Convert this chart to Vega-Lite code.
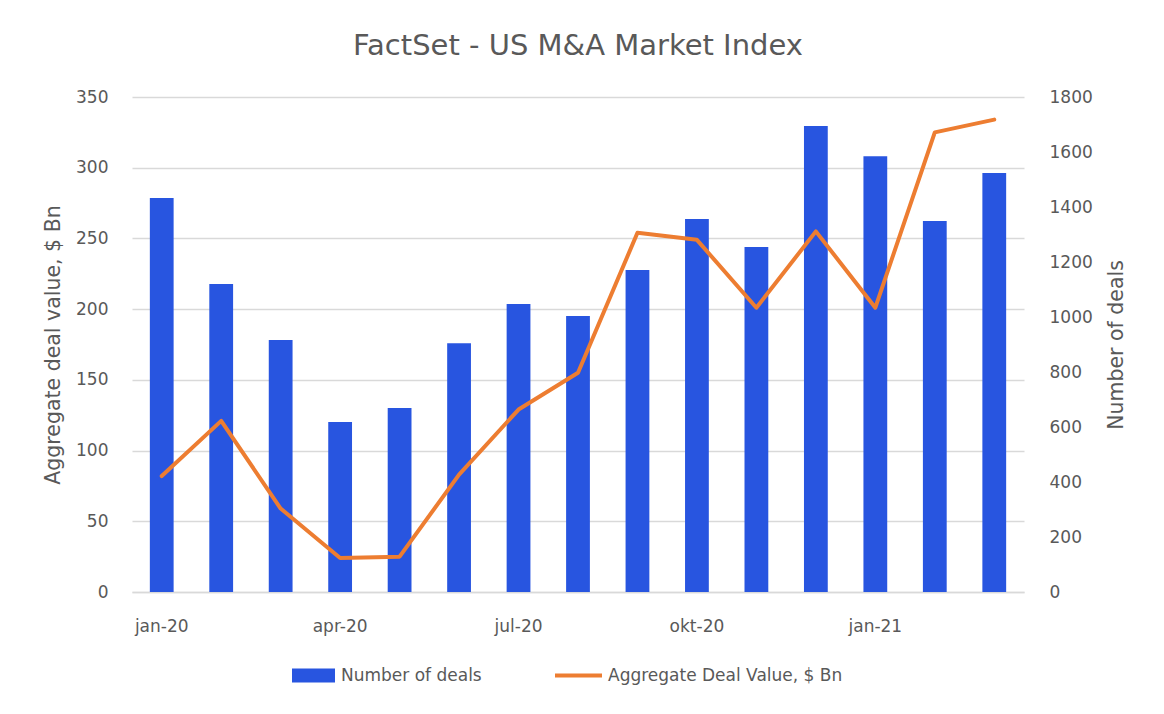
{
  "$schema": "https://vega.github.io/schema/vega-lite/v6.json",
  "width": 892,
  "height": 495,
  "autosize": {"type": "none"},
  "padding": {"left": 132, "top": 97, "right": 140, "bottom": 122},
  "background": "white",
  "title": {
    "text": "FactSet - US M&A Market Index",
    "fontSize": 29,
    "font": "DejaVu Sans",
    "fontWeight": "normal",
    "color": "#595959",
    "anchor": "middle",
    "offset": 27
  },
  "data": {
    "values": [
      {"month": "jan-20", "deals": 1433, "value": 82},
      {"month": "feb-20", "deals": 1120, "value": 121},
      {"month": "mar-20", "deals": 916, "value": 59},
      {"month": "apr-20", "deals": 618, "value": 24},
      {"month": "maj-20", "deals": 669, "value": 25},
      {"month": "jun-20", "deals": 905, "value": 83},
      {"month": "jul-20", "deals": 1047, "value": 129},
      {"month": "aug-20", "deals": 1004, "value": 155},
      {"month": "sep-20", "deals": 1171, "value": 254},
      {"month": "okt-20", "deals": 1356, "value": 249},
      {"month": "nov-20", "deals": 1255, "value": 201},
      {"month": "dec-20", "deals": 1695, "value": 255},
      {"month": "jan-21", "deals": 1585, "value": 201},
      {"month": "feb-21", "deals": 1349, "value": 325},
      {"month": "mar-21", "deals": 1524, "value": 334}
    ]
  },
  "encoding": {
    "x": {
      "field": "month",
      "type": "ordinal",
      "sort": null,
      "scale": {"paddingInner": 0.6, "paddingOuter": 0.3},
      "axis": {
        "title": null,
        "values": ["jan-20", "apr-20", "jul-20", "okt-20", "jan-21"],
        "labelAngle": 0,
        "ticks": false,
        "domainColor": "#d9d9d9",
        "domainWidth": 1.5,
        "labelPadding": 26,
        "labelFontSize": 17,
        "labelColor": "#595959",
        "labelFont": "DejaVu Sans"
      }
    }
  },
  "layer": [
    {
      "mark": {"type": "bar", "color": "#2855e0"},
      "encoding": {
        "y": {
          "field": "deals",
          "type": "quantitative",
          "scale": {"domain": [0, 1800], "nice": false},
          "axis": {
            "orient": "right",
            "title": "Number of deals",
            "titleAngle": -90,
            "titleBaseline": "top",
            "titleFontSize": 20.5,
            "titleFontWeight": "normal",
            "titleColor": "#595959",
            "titleFont": "DejaVu Sans",
            "titlePadding": 14,
            "values": [0, 200, 400, 600, 800, 1000, 1200, 1400, 1600, 1800],
            "format": "d",
            "grid": false,
            "domain": false,
            "ticks": false,
            "labelPadding": 25,
            "labelFontSize": 17,
            "labelColor": "#595959",
            "labelFont": "DejaVu Sans"
          }
        },
        "fill": {
          "datum": "Number of deals",
          "type": "nominal",
          "scale": {"range": ["#2855e0"]},
          "legend": {
            "title": null,
            "orient": "none",
            "legendX": 160,
            "legendY": 557,
            "padding": 0,
            "symbolType": "M-1,-0.32H1V0.32H-1Z",
            "symbolSize": 1849,
            "symbolStrokeWidth": 0,
            "labelFontSize": 17,
            "labelColor": "#595959",
            "labelFont": "DejaVu Sans",
            "labelOffset": 6,
            "labelLimit": 400
          }
        }
      }
    },
    {
      "mark": {"type": "line", "strokeWidth": 4, "strokeCap": "round", "strokeJoin": "round"},
      "encoding": {
        "y": {
          "field": "value",
          "type": "quantitative",
          "scale": {"domain": [0, 350], "nice": false},
          "axis": {
            "orient": "left",
            "title": "Aggregate deal value, $ Bn",
            "titleFontSize": 20.5,
            "titleFontWeight": "normal",
            "titleColor": "#595959",
            "titleFont": "DejaVu Sans",
            "titlePadding": 12,
            "values": [0, 50, 100, 150, 200, 250, 300, 350],
            "grid": true,
            "gridColor": "#d9d9d9",
            "gridWidth": 1.5,
            "domain": false,
            "ticks": false,
            "labelPadding": 24,
            "labelFontSize": 17,
            "labelColor": "#595959",
            "labelFont": "DejaVu Sans"
          }
        },
        "stroke": {
          "datum": "Aggregate Deal Value, $ Bn",
          "type": "nominal",
          "scale": {"range": ["#ed7d31"]},
          "legend": {
            "title": null,
            "orient": "none",
            "legendX": 421,
            "legendY": 553,
            "padding": 0,
            "symbolType": "stroke",
            "symbolSize": 2209,
            "symbolStrokeWidth": 4,
            "labelFontSize": 17,
            "labelColor": "#595959",
            "labelFont": "DejaVu Sans",
            "labelOffset": 4,
            "labelLimit": 400
          }
        }
      }
    }
  ],
  "resolve": {"scale": {"y": "independent", "fill": "independent", "stroke": "independent"}},
  "config": {
    "view": {"stroke": null}
  }
}
